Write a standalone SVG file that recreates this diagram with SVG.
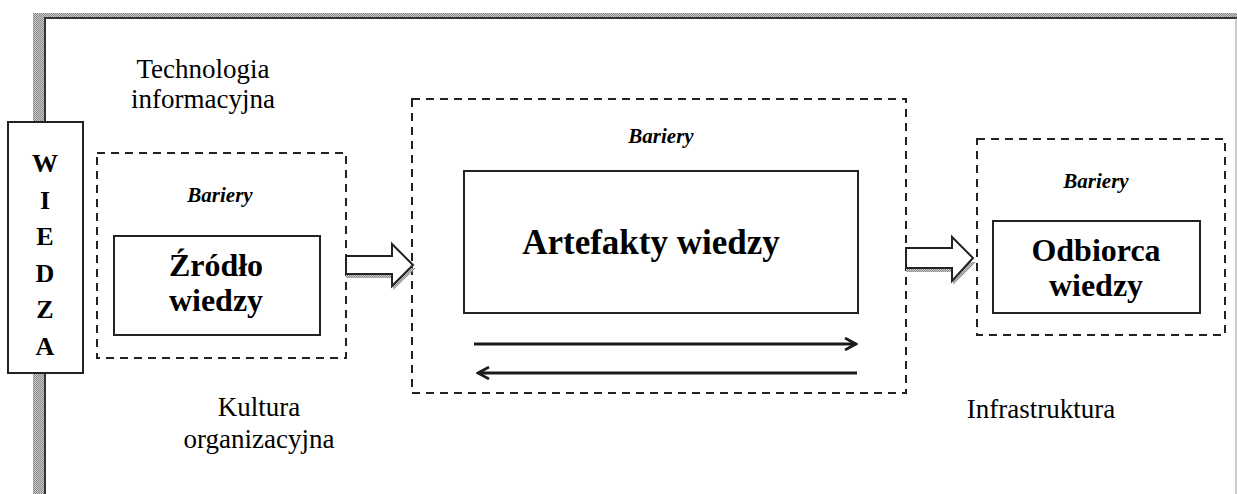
<svg xmlns="http://www.w3.org/2000/svg" width="1237" height="494" viewBox="0 0 1237 494">
  <defs>
    <pattern id="dots" width="2" height="2" patternUnits="userSpaceOnUse">
      <rect width="2" height="2" fill="#c8c8c8"/>
      <rect width="1" height="1" fill="#8a8a8a"/>
      <rect x="1" y="1" width="1" height="1" fill="#8a8a8a"/>
    </pattern>
    <marker id="open" viewBox="0 0 14 14" refX="12" refY="7" markerWidth="14" markerHeight="14" markerUnits="userSpaceOnUse" orient="auto">
      <path d="M1,1 L12,7 L1,13" fill="none" stroke="#1a1a1a" stroke-width="2.6"/>
    </marker>
  </defs>
  <style>
    .dash { fill: none; stroke: #222; stroke-width: 2; stroke-dasharray: 8 6; }
    .box { fill: #fff; stroke: #222; stroke-width: 2; }
    .plain { font-family: "Liberation Serif", serif; font-size: 27px; fill: #000; text-anchor: middle; }
    .bar { font-family: "Liberation Serif", serif; font-size: 21px; font-weight: bold; font-style: italic; fill: #000; text-anchor: middle; }
    .big { font-family: "Liberation Serif", serif; font-size: 32px; font-weight: bold; fill: #000; text-anchor: middle; }
    .huge { font-family: "Liberation Serif", serif; font-size: 35px; font-weight: bold; fill: #000; text-anchor: middle; }
    .letter { font-family: "Liberation Serif", serif; font-size: 26px; font-weight: bold; fill: #000; text-anchor: middle; }
    .shadow { fill: url(#dots); }
    .block { fill: #fff; stroke: #222; stroke-width: 2; stroke-linejoin: miter; }
    .line { stroke: #1a1a1a; stroke-width: 3; fill: none; }
  </style>

  <rect width="1237" height="494" fill="#fff"/>

  <!-- page frame with shaded edge -->
  <g id="frame">
    <rect x="33" y="13" width="1204" height="4" class="shadow"/>
    <rect x="33" y="13" width="11" height="481" class="shadow"/>
    <line x1="44" y1="18" x2="1237" y2="18" stroke="#333" stroke-width="2"/>
    <line x1="45" y1="18" x2="45" y2="494" stroke="#333" stroke-width="2"/>
    <line x1="1236" y1="18" x2="1236" y2="494" stroke="#999" stroke-width="1"/>
  </g>

  <!-- WIEDZA column -->
  <g id="wiedza">
    <rect x="8" y="122" width="75" height="251" class="box"/>
    <text x="45" y="172" class="letter">W</text>
    <text x="45" y="209" class="letter">I</text>
    <text x="45" y="245" class="letter">E</text>
    <text x="45" y="282" class="letter">D</text>
    <text x="45" y="318" class="letter">Z</text>
    <text x="45" y="355" class="letter">A</text>
  </g>

  <g id="technologia">
    <text x="203" y="78" class="plain">Technologia</text>
    <text x="203" y="108" class="plain">informacyjna</text>
  </g>

  <g id="zrodlo">
    <rect x="97" y="153" width="249" height="205" class="dash"/>
    <text x="220" y="202" class="bar">Bariery</text>
    <rect x="114" y="236" width="206" height="99" class="box"/>
    <text x="216" y="276" class="big">Źródło</text>
    <text x="216" y="311" class="big">wiedzy</text>
  </g>

  <g id="artefakty">
    <rect x="412" y="99" width="494" height="294" class="dash"/>
    <text x="661" y="143" class="bar">Bariery</text>
    <rect x="464" y="171" width="394" height="142" class="box"/>
    <text x="651" y="254" class="huge">Artefakty wiedzy</text>
  </g>

  <g id="odbiorca">
    <rect x="977" y="139" width="248" height="196" class="dash"/>
    <text x="1096" y="188" class="bar">Bariery</text>
    <rect x="993" y="221" width="207" height="92" class="box"/>
    <text x="1096" y="261" class="big">Odbiorca</text>
    <text x="1096" y="296" class="big">wiedzy</text>
  </g>

  <g id="kultura">
    <text x="259" y="416" class="plain">Kultura</text>
    <text x="259" y="448" class="plain">organizacyjna</text>
  </g>

  <g id="infrastruktura">
    <text x="1041" y="418" class="plain">Infrastruktura</text>
  </g>

  <!-- connectors -->
  <g id="connectors">
    <path d="M346,278 L393,278 L393,290 L416,268 L346,268 Z" class="shadow"/>
    <path d="M346,256 L392,256 L392,244 L413,265 L392,286 L392,274 L346,274 Z" class="block"/>
    <path d="M906,272 L953,272 L953,285 L976,262 L906,262 Z" class="shadow"/>
    <path d="M906,248 L952,248 L952,237 L973,258 L952,281 L952,268 L906,268 Z" class="block"/>
    <line x1="474" y1="344" x2="856" y2="344" class="line" marker-end="url(#open)"/>
    <line x1="857" y1="373" x2="478" y2="373" class="line" marker-end="url(#open)"/>
  </g>
</svg>
